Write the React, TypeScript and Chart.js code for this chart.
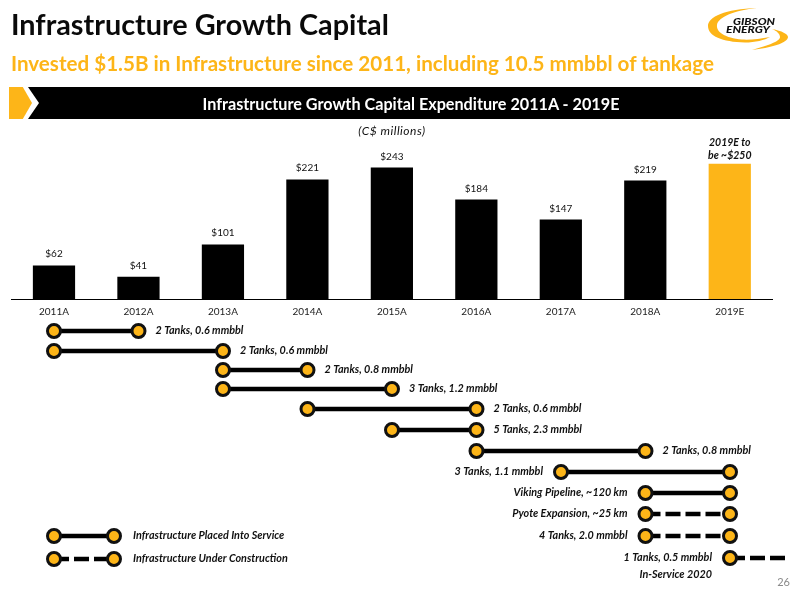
import { useEffect, useRef } from 'react';
import { Chart, registerables } from 'chart.js';

Chart.register(...registerables);

const FONT = 'Lato, "Noto Sans", sans-serif';
const GOLD = '#FDB518';

const years = ['2011A', '2012A', '2013A', '2014A', '2015A', '2016A', '2017A', '2018A', '2019E'];
const capex = [62, 41, 101, 221, 243, 184, 147, 219, 250];
const capexLabels = ['$62', '$41', '$101', '$221', '$243', '$184', '$147', '$219', ''];
const estimateNote = ['2019E to', 'be ~$250'];

// timeline rows, x values are year indexes (0 = 2011A)
const rowPositions = [0, 1, 1.95, 2.9, 3.9, 4.95, 6, 7.05, 8.1, 9.15, 10.25, 11.35];
const rowStarts = [0, 0, 2, 2, 3, 4, 5, 6, 7, 7, 7, 8];
const rowEnds = [1, 2, 3, 4, 5, 5, 7, 8, 8, 8, 8, 8.68];
const rowDashed = [false, false, false, false, false, false, false, false, false, true, true, true];
const rowLabels = [
  '2 Tanks, 0.6 mmbbl',
  '2 Tanks, 0.6 mmbbl',
  '2 Tanks, 0.8 mmbbl',
  '3 Tanks, 1.2 mmbbl',
  '2 Tanks, 0.6 mmbbl',
  '5 Tanks, 2.3 mmbbl',
  '2 Tanks, 0.8 mmbbl',
  '3 Tanks, 1.1 mmbbl',
  'Viking Pipeline, ~120 km',
  'Pyote Expansion, ~25 km',
  '4 Tanks, 2.0 mmbbl',
  '1 Tanks, 0.5 mmbbl\nIn-Service 2020',
];

const legendRows = [10.25, 11.4];
const legendLabels = ['Infrastructure Placed Into Service', 'Infrastructure Under Construction'];
const legendDashed = [false, true];
const legendEnd = 0.71;

const barLabelsPlugin = {
  id: 'barLabels',
  afterDatasetsDraw(chart: Chart) {
    const { ctx } = chart;
    const bars = chart.getDatasetMeta(0).data;
    ctx.save();
    ctx.textAlign = 'center';
    ctx.textBaseline = 'alphabetic';
    ctx.fillStyle = '#111';
    ctx.font = `10px ${FONT}`;
    bars.forEach((bar, i) => {
      if (capexLabels[i]) ctx.fillText(capexLabels[i], bar.x, bar.y - 8);
    });
    const last = bars[bars.length - 1];
    ctx.font = `italic bold 10.5px ${FONT}`;
    estimateNote.forEach((line, i) => {
      ctx.fillText(line, last.x, last.y - 18 + i * 13);
    });
    ctx.restore();
  },
};

const rowLabelsPlugin = {
  id: 'rowLabels',
  afterDatasetsDraw(chart: Chart) {
    const { ctx } = chart;
    const x = chart.scales.x;
    const y = chart.scales.y;
    ctx.save();
    ctx.fillStyle = '#111';
    ctx.font = `italic bold 10.8px ${FONT}`;
    ctx.textBaseline = 'middle';
    rowLabels.forEach((label, i) => {
      // rows that run to 2019E or beyond carry the label on the left
      const onLeft = rowEnds[i] >= 8;
      ctx.textAlign = onLeft ? 'right' : 'left';
      const px = onLeft ? x.getPixelForValue(rowStarts[i]) - 18 : x.getPixelForValue(rowEnds[i]) + 17;
      label.split('\n').forEach((line, j) => {
        ctx.fillText(line, px, y.getPixelForValue(rowPositions[i]) + j * 17);
      });
    });
    ctx.textAlign = 'left';
    legendLabels.forEach((label, i) => {
      ctx.fillText(label, x.getPixelForValue(legendEnd) + 19, y.getPixelForValue(legendRows[i]));
    });
    ctx.restore();
  },
};

function segment(row: number, start: number, end: number, dashed: boolean, lastMarker: boolean) {
  return {
    data: [{ x: start, y: row }, { x: end, y: row }],
    borderColor: '#000',
    borderWidth: 4.5,
    borderDash: dashed ? [15, 5] : [],
    pointRadius: lastMarker ? [6.5, 6.5] : [6.5, 0],
    pointBackgroundColor: GOLD,
    pointBorderColor: '#111',
    pointBorderWidth: 3,
    clip: false,
  };
}

function CapexChart() {
  const canvasRef = useRef<HTMLCanvasElement>(null);

  useEffect(() => {
    if (!canvasRef.current) return;
    const chart = new Chart(canvasRef.current, {
      type: 'bar',
      data: {
        labels: years,
        datasets: [{
          data: capex,
          backgroundColor: capex.map((_, i) => (i === capex.length - 1 ? GOLD : '#000')),
          barPercentage: 0.5,
          categoryPercentage: 1,
        }],
      },
      options: {
        responsive: false,
        animation: false,
        layout: { padding: { left: 11.75, right: 28, top: 153, bottom: 0 } },
        plugins: { legend: { display: false }, tooltip: { enabled: false } },
        scales: {
          x: {
            afterFit: (scale: any) => { scale.height = 21; },
            grid: { display: false, drawTicks: false },
            border: { display: true, color: '#000', width: 1 },
            ticks: { color: '#222', font: { family: FONT, size: 10 }, padding: 7, maxRotation: 0, autoSkip: false },
          },
          y: { display: false, min: 0, max: 270 },
        },
      },
      plugins: [barLabelsPlugin],
    });
    return () => chart.destroy();
  }, []);

  return <canvas ref={canvasRef} width={800} height={320} style={{ position: 'absolute', left: 0, top: 0 }} />;
}

function TimelineChart() {
  const canvasRef = useRef<HTMLCanvasElement>(null);

  useEffect(() => {
    if (!canvasRef.current) return;
    const datasets = [
      ...rowPositions.map((row, i) => segment(row, rowStarts[i], rowEnds[i], rowDashed[i], rowEnds[i] <= 8)),
      ...legendRows.map((row, i) => segment(row, 0, legendEnd, legendDashed[i], true)),
    ];
    const chart = new Chart(canvasRef.current, {
      type: 'line',
      data: { datasets },
      options: {
        responsive: false,
        animation: false,
        layout: { autoPadding: false, padding: { left: 11.75, right: 10.85 } },
        plugins: { legend: { display: false }, tooltip: { enabled: false } },
        scales: {
          x: { type: 'linear', display: false, min: -0.5, max: 8.7 },
          y: { type: 'linear', display: false, reverse: true, min: -0.55, max: 12.95 },
        },
      },
      plugins: [rowLabelsPlugin],
    });
    return () => chart.destroy();
  }, []);

  return <canvas ref={canvasRef} width={800} height={270} style={{ position: 'absolute', left: 0, top: 320 }} />;
}

function Logo() {
  return (
    <svg width={800} height={60} style={{ position: 'absolute', left: 0, top: 0 }}>
      <path fill={GOLD} d="M757 8 C725 9 708 17 708 26 C708 36 722 42 745 42.5 C755 42.5 765 40 770 37 C760 39 750 40 742 39.5 C725 38 716 32 717 25 C718 17 735 10 757 8 Z" />
      <path fill={GOLD} d="M772 29 C782 31 788 34 788 37 C788 43 770 48 752 50 C765 46 780 42 780 37 C780 34 777 31 772 29 Z" />
      <text x={733} y={25} fontFamily={FONT} fontSize={10} fontWeight={900} fontStyle="italic" fill="#111" textLength={42} lengthAdjust="spacingAndGlyphs">GIBSON</text>
      <text x={726} y={32.5} fontFamily={FONT} fontSize={10} fontWeight={900} fontStyle="italic" fill="#111" textLength={44} lengthAdjust="spacingAndGlyphs">ENERGY</text>
    </svg>
  );
}

function Label({ style, children }: { style: React.CSSProperties; children: React.ReactNode }) {
  return <div style={{ position: 'absolute', whiteSpace: 'nowrap', fontFamily: FONT, ...style }}>{children}</div>;
}

export default function App() {
  return (
    <div style={{ position: 'absolute', left: 0, top: 0, width: 800, height: 600, background: '#fff', overflow: 'hidden' }}>
      <CapexChart />
      <TimelineChart />
      <Logo />
      <Label style={{ left: 11, top: 5, fontSize: 28.8, lineHeight: '38px', fontWeight: 700, color: '#0a0a0a' }}>
        Infrastructure Growth Capital
      </Label>
      <Label style={{ left: 11, top: 50, fontSize: 20.6, lineHeight: '26px', fontWeight: 700, color: GOLD }}>
        Invested $1.5B in Infrastructure since 2011, including 10.5 mmbbl of tankage
      </Label>
      <div style={{ position: 'absolute', left: 9, top: 87, width: 23, height: 32, background: GOLD, clipPath: 'polygon(0 0, 60% 0, 100% 50%, 60% 100%, 0 100%)' }} />
      <div style={{ position: 'absolute', left: 28, top: 87, width: 762, height: 32, background: '#000', clipPath: 'polygon(0 0, 100% 0, 100% 100%, 0 100%, 11px 50%)' }} />
      <Label style={{ left: 24, width: 774, top: 94, textAlign: 'center', fontSize: 16.2, lineHeight: '20px', fontWeight: 700, color: '#fff' }}>
        Infrastructure Growth Capital Expenditure 2011A - 2019E
      </Label>
      <Label style={{ left: 292, width: 200, top: 124, textAlign: 'center', fontSize: 12, letterSpacing: '0.5px', lineHeight: '14px', fontStyle: 'italic', color: '#111' }}>
        (C$ millions)
      </Label>
      <Label style={{ left: 760, width: 30, top: 575, textAlign: 'right', fontSize: 11, lineHeight: '14px', color: '#8a8a8a' }}>
        26
      </Label>
    </div>
  );
}
